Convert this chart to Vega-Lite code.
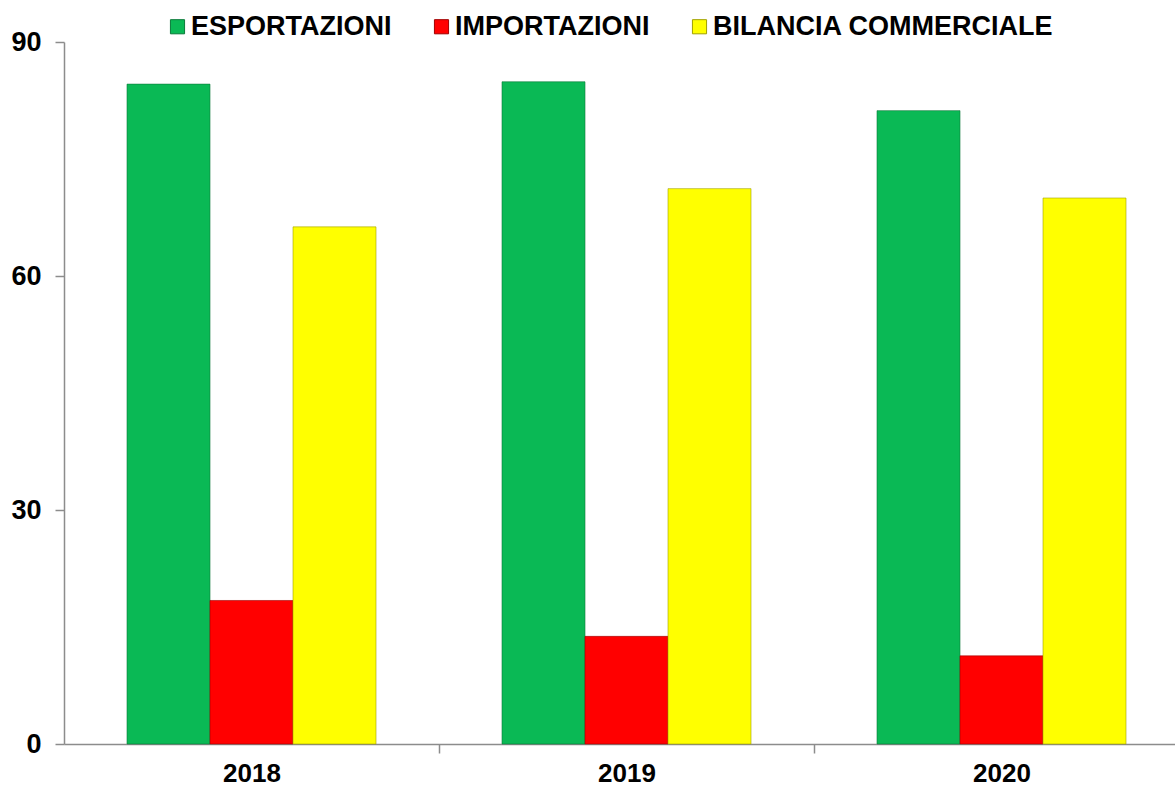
{
  "$schema": "https://vega.github.io/schema/vega-lite/v6.json",
  "width": 1125,
  "height": 702,
  "autosize": {"type": "none"},
  "padding": {"left": 64, "top": 42, "right": 0, "bottom": 43},
  "background": "white",
  "config": {
    "view": {"stroke": null},
    "font": "Liberation Sans"
  },
  "data": {
    "values": [
      {"anno": "2018", "serie": "ESPORTAZIONI", "valore": 84.6},
      {"anno": "2018", "serie": "IMPORTAZIONI", "valore": 18.4},
      {"anno": "2018", "serie": "BILANCIA COMMERCIALE", "valore": 66.3},
      {"anno": "2019", "serie": "ESPORTAZIONI", "valore": 84.9},
      {"anno": "2019", "serie": "IMPORTAZIONI", "valore": 13.8},
      {"anno": "2019", "serie": "BILANCIA COMMERCIALE", "valore": 71.2},
      {"anno": "2020", "serie": "ESPORTAZIONI", "valore": 81.2},
      {"anno": "2020", "serie": "IMPORTAZIONI", "valore": 11.3},
      {"anno": "2020", "serie": "BILANCIA COMMERCIALE", "valore": 70.0}
    ]
  },
  "mark": {"type": "bar", "strokeWidth": 1, "strokeOpacity": 0.6},
  "encoding": {
    "x": {
      "field": "anno",
      "type": "nominal",
      "scale": {"paddingInner": 0.336, "paddingOuter": 0.168},
      "axis": {
        "title": null,
        "labelAngle": 0,
        "labelFontSize": 26,
        "labelFontWeight": "bold",
        "labelColor": "black",
        "labelPadding": 7,
        "domainColor": "#8c8c8c",
        "domainWidth": 1.5,
        "tickColor": "#8c8c8c",
        "tickWidth": 1.5,
        "tickSize": 9,
        "tickOffset": 187.5,
        "labelOffset": -187.5
      }
    },
    "xOffset": {
      "field": "serie",
      "type": "nominal",
      "sort": ["ESPORTAZIONI", "IMPORTAZIONI", "BILANCIA COMMERCIALE"],
      "scale": {"paddingInner": 0, "paddingOuter": 0}
    },
    "y": {
      "field": "valore",
      "type": "quantitative",
      "scale": {"domain": [0, 90], "nice": false},
      "axis": {
        "title": null,
        "values": [0, 30, 60, 90],
        "grid": false,
        "labelFontSize": 27,
        "labelFontWeight": "bold",
        "labelColor": "black",
        "labelPadding": 14,
        "domainColor": "#8c8c8c",
        "domainWidth": 1.5,
        "tickColor": "#8c8c8c",
        "tickWidth": 1.5,
        "tickSize": 9
      }
    },
    "color": {
      "field": "serie",
      "type": "nominal",
      "sort": ["ESPORTAZIONI", "IMPORTAZIONI", "BILANCIA COMMERCIALE"],
      "scale": {
        "domain": ["ESPORTAZIONI", "IMPORTAZIONI", "BILANCIA COMMERCIALE"],
        "range": ["#0ab955", "#ff0000", "#ffff00"]
      },
      "legend": {
        "title": null,
        "orient": "none",
        "direction": "horizontal",
        "legendX": 100,
        "legendY": -29,
        "symbolType": "square",
        "symbolSize": 200,
        "symbolStrokeWidth": 1,
        "symbolStrokeColor": "#777777",
        "labelFontSize": 27,
        "labelFontWeight": "bold",
        "labelColor": "black",
        "labelLimit": 0,
        "labelOffset": 0,
        "columnPadding": 36
      }
    },
    "stroke": {
      "field": "serie",
      "type": "nominal",
      "scale": {
        "domain": ["ESPORTAZIONI", "IMPORTAZIONI", "BILANCIA COMMERCIALE"],
        "range": ["#0b7a3a", "#a00000", "#a0a000"]
      },
      "legend": null
    }
  }
}
